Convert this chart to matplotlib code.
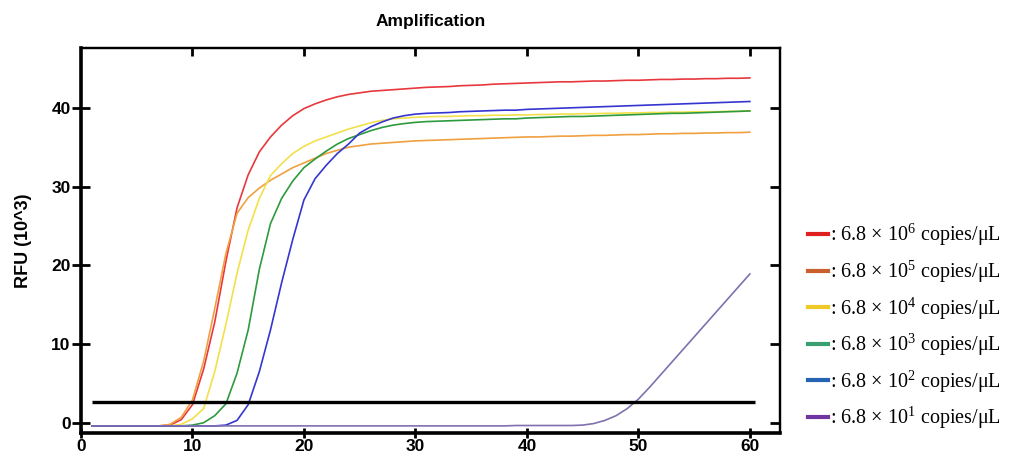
import matplotlib
matplotlib.use("Agg")
import matplotlib.pyplot as plt
from matplotlib.lines import Line2D

plt.rcParams["font.family"] = ["Liberation Sans", "DejaVu Sans"]
plt.rcParams["mathtext.fontset"] = "custom"
plt.rcParams["mathtext.rm"] = "Liberation Serif"

cycles = list(range(1, 61))

rfu_1e6 = [
    -0.4, -0.4, -0.4, -0.4, -0.4, -0.4, -0.4, -0.3, 0.4, 2.3,
    6.8, 12.8, 20.5, 27.3, 31.5, 34.4, 36.3, 37.8, 39.0, 39.9,
    40.5, 41.0, 41.4, 41.7, 41.9, 42.1, 42.2, 42.3, 42.4, 42.5,
    42.6, 42.65, 42.7, 42.8, 42.85, 42.9, 43.0, 43.05, 43.1, 43.15,
    43.2, 43.25, 43.3, 43.3, 43.35, 43.4, 43.4, 43.45, 43.5, 43.5,
    43.55, 43.6, 43.6, 43.65, 43.65, 43.7, 43.7, 43.75, 43.75, 43.8,
]
rfu_1e5 = [
    -0.4, -0.4, -0.4, -0.4, -0.4, -0.4, -0.4, -0.2, 0.7, 2.9,
    7.8, 14.5, 21.5, 26.6, 28.6, 29.8, 30.8, 31.6, 32.4, 33.0,
    33.6, 34.2, 34.6, 35.0, 35.2, 35.4, 35.5, 35.6, 35.7, 35.8,
    35.85, 35.9, 35.95, 36.0, 36.05, 36.1, 36.15, 36.2, 36.25, 36.3,
    36.3, 36.35, 36.4, 36.4, 36.45, 36.5, 36.5, 36.55, 36.6, 36.6,
    36.65, 36.7, 36.7, 36.75, 36.75, 36.8, 36.8, 36.85, 36.85, 36.9,
]
rfu_1e4 = [
    -0.4, -0.4, -0.4, -0.4, -0.4, -0.4, -0.4, -0.4, -0.2, 0.5,
    1.8, 6.5, 12.5, 19.0, 24.5, 28.5, 31.4, 32.9, 34.2, 35.1,
    35.8, 36.3, 36.8, 37.3, 37.7, 38.1, 38.4, 38.6, 38.7, 38.8,
    38.85, 38.9, 38.9, 38.95, 39.0, 39.0, 39.05, 39.05, 39.1, 39.1,
    39.15, 39.15, 39.2, 39.2, 39.25, 39.25, 39.3, 39.3, 39.35, 39.35,
    39.4, 39.4, 39.45, 39.45, 39.5, 39.5, 39.5, 39.55, 39.55, 39.6,
]
rfu_1e3 = [
    -0.4, -0.4, -0.4, -0.4, -0.4, -0.4, -0.4, -0.4, -0.4, -0.3,
    0.0, 0.9, 2.4, 6.3, 11.8, 19.5, 25.3, 28.5, 30.7, 32.4,
    33.5, 34.5, 35.4, 36.1, 36.6, 37.1, 37.5, 37.8, 38.0, 38.15,
    38.25, 38.3, 38.35, 38.4, 38.45, 38.5, 38.55, 38.6, 38.6, 38.7,
    38.75, 38.8, 38.85, 38.9, 38.9, 38.95, 39.0, 39.05, 39.1, 39.15,
    39.2, 39.25, 39.3, 39.3, 39.35, 39.4, 39.45, 39.5, 39.55, 39.6,
]
rfu_1e2 = [
    -0.4, -0.4, -0.4, -0.4, -0.4, -0.4, -0.4, -0.4, -0.4, -0.4,
    -0.4, -0.4, -0.3, 0.3, 2.3, 6.5, 11.8, 17.8, 23.3, 28.3,
    31.0, 32.7, 34.2, 35.4, 36.8, 37.6, 38.2, 38.7, 39.0, 39.2,
    39.3, 39.35, 39.4, 39.5, 39.55, 39.6, 39.65, 39.7, 39.7, 39.8,
    39.85, 39.9, 39.95, 40.0, 40.05, 40.1, 40.15, 40.2, 40.25, 40.3,
    40.35, 40.4, 40.45, 40.5, 40.55, 40.6, 40.65, 40.7, 40.75, 40.8,
]
rfu_1e1 = [
    -0.4, -0.4, -0.4, -0.4, -0.4, -0.4, -0.4, -0.4, -0.4, -0.4,
    -0.4, -0.4, -0.4, -0.4, -0.4, -0.4, -0.4, -0.4, -0.4, -0.4,
    -0.4, -0.4, -0.4, -0.4, -0.4, -0.4, -0.4, -0.4, -0.4, -0.4,
    -0.4, -0.4, -0.4, -0.4, -0.4, -0.4, -0.4, -0.4, -0.35, -0.35,
    -0.35, -0.35, -0.35, -0.35, -0.3, -0.1, 0.3, 0.9, 1.8, 3.0,
    4.5, 6.1, 7.7, 9.3, 10.9, 12.5, 14.1, 15.7, 17.3, 18.9,
]
threshold = 2.6

series = [rfu_1e6, rfu_1e5, rfu_1e4, rfu_1e3, rfu_1e2, rfu_1e1]
exponents = ["6", "5", "4", "3", "2", "1"]
line_colors = ["#e8383d", "#f0a040", "#f2e04a", "#2e9a3e", "#3535d0", "#8070b0"]
legend_colors = ["#e02020", "#c9602f", "#f0c828", "#3aa070", "#2464b0", "#7035a0"]

fig = plt.figure(figsize=(10.29, 4.73), dpi=100)
ax = fig.add_axes([0.0787, 0.0846, 0.6793, 0.814])

for vals, col in zip(series, line_colors):
    ax.plot(cycles, vals, color=col, lw=1.2)

ax.hlines(threshold, 1, 60.5, color="black", lw=2.4)

ax.set_xlim(0, 62.7)
ax.set_ylim(-1.3, 47.6)
ax.set_xticks([0, 10, 20, 30, 40, 50, 60])
ax.set_yticks([0, 10, 20, 30, 40])

for side in ["left", "bottom"]:
    ax.spines[side].set_linewidth(2.6)
for side in ["top", "right"]:
    ax.spines[side].set_linewidth(1.6)

ax.tick_params(axis="x", which="major", direction="inout",
               length=7, width=2, labelsize=12.5, pad=1)
ax.tick_params(axis="y", which="major", direction="inout",
               length=13, width=2, labelsize=12.5, pad=1)
for lbl in ax.get_xticklabels() + ax.get_yticklabels():
    lbl.set_fontweight("bold")

# top / right ticks point inward only
ax_top = ax.secondary_xaxis("top")
ax_top.set_xticks([10, 20, 30, 40, 50, 60])
ax_top.tick_params(direction="in", length=6, width=2, labeltop=False)
ax_top.spines["top"].set_linewidth(1.6)
ax_right = ax.secondary_yaxis("right")
ax_right.set_yticks([0, 10, 20, 30, 40])
ax_right.tick_params(direction="in", length=7, width=2, labelright=False)
ax_right.spines["right"].set_linewidth(1.6)

ax.set_title("Amplification", fontsize=12.5, fontweight="bold", pad=16)
ax.set_ylabel("RFU (10^3)", fontsize=13, fontweight="bold", labelpad=14)

handles = [Line2D([0], [0], color=c, lw=3) for c in legend_colors]
labels = [": 6.8 \u00d7 10$^{%s}$ copies/\u03bcL" % e for e in exponents]
fig.legend(handles, labels, loc="center left", bbox_to_anchor=(0.785, 0.31),
           frameon=False, handlelength=1.0, handletextpad=0.1, labelspacing=0.48,
           borderpad=0, borderaxespad=0,
           prop={"family": "Liberation Serif", "size": 14.5})

fig.savefig("out.png", dpi=100)
